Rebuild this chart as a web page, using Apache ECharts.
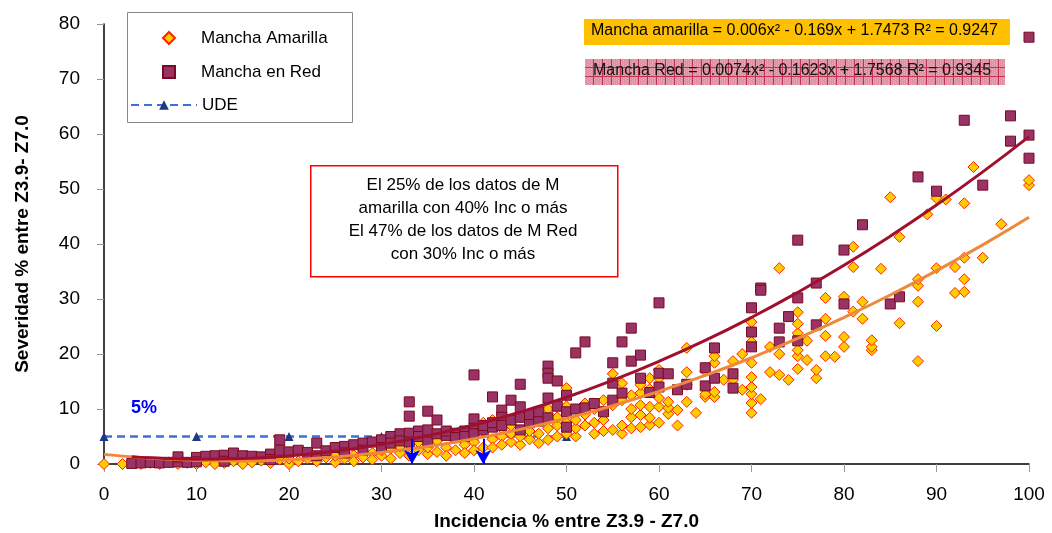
<!DOCTYPE html>
<html>
<head>
<meta charset="utf-8">
<script src="https://cdn.jsdelivr.net/npm/echarts@6/dist/echarts.min.js"></script>
<style>
html,body{margin:0;padding:0;background:#fff;}
#chart{width:1052px;height:533px;}
</style>
</head>
<body>
<div id="chart"></div>
<script>
// ---- Data ----
const xTicks = [0,10,20,30,40,50,60,70,80,90,100];
const yTicks = [0,10,20,30,40,50,60,70,80];

const manchaAmarilla = [
[0,0],[2,0],[4,0],[5,0.2],[6,0],[7,0.3],[8,0],[9,0.2],[10,0],[11,0.3],[12,0],[13,0.2],[14,0.5],[15,0],[16,0.3],[17,0.6],[18,0.2],[19,0.8],[20,0],[20,1.0],
[21,0.5],[22,1.0],[23,0.5],[24,1.2],[25,0.3],[25,1.5],[26,1.0],[27,1.6],[27,0.5],[28,1.2],[29,2.0],[29,0.8],[30,1.5],[30,2.5],[31,1.0],[31,2.8],[32,2.0],[32,3.2],[33,1.5],[33,3.5],
[34,2.5],[34,4.0],[35,1.8],[35,3.0],[36,2.2],[36,4.2],[37,3.0],[37,1.5],[38,2.5],[38,4.8],[39,3.5],[39,2.0],[40,4.0],[40,5.5],[40,2.5],[41,3.0],[41,6.0],[41,7.5],[42,4.5],[42,3.0],
[42,8.0],[43,5.0],[43,3.5],[43,6.5],[44,4.0],[44,5.5],[44,7.0],[45,3.5],[45,5.0],[45,8.5],[46,4.5],[46,6.0],[46,7.5],[47,3.8],[47,5.5],[47,8.8],[48,4.4],[48,6.5],[48,10.0],[49,5.0],
[49,7.0],[49,8.5],[50,5.5],[50,7.5],[50,13.8],[50,10.5],[51,5.0],[51,6.5],[51,8.0],[52,7.0],[52,9.0],[52,11.0],[53,5.5],[53,7.5],[53,10.0],[54,6.0],[54,8.0],[54,11.6],[55,6.2],[55,10.7],
[55,16.4],[56,5.5],[56,7.0],[56,11.6],[56,14.7],[57,6.5],[57,8.5],[57,12.5],[57,10.0],[58,6.7],[58,8.9],[58,10.7],[58,12.9],[58,14.4],[59,7.1],[59,8.4],[59,10.4],[59,13.6],[59,15.6],[60,7.5],
[60,10.4],[60,12.0],[60,15.6],[60,17.1],[61,9.1],[61,10.2],[61,11.3],[62,7.0],[62,9.8],[63,11.3],[63,14.4],[63,16.7],[63,21.1],[64,9.3],[65,12.2],[65,12.7],[65,16.9],[66,12.2],[66,13.1],[66,18.4],
[66,19.6],[67,15.3],[68,15.3],[68,18.7],[69,13.5],[69,20.0],[70,9.3],[70,11.1],[70,12.7],[70,14.0],[70,15.8],[70,18.4],[70,22.2],[70,25.8],[71,11.8],[72,16.7],[72,21.3],[73,16.2],[73,20.0],[73,35.6],
[74,15.3],[75,17.3],[75,19.6],[75,20.7],[75,23.8],[75,25.5],[75,27.6],[76,18.9],[76,22.4],[77,15.6],[77,17.1],[78,19.6],[78,23.3],[78,26.4],[78,30.2],[79,19.5],[80,21.3],[80,23.1],[80,30.4],[81,27.7],
[81,35.8],[81,39.5],[82,26.4],[82,29.5],[83,20.7],[83,21.3],[83,22.5],[84,35.5],[85,48.5],[86,25.6],[86,41.3],[88,18.7],[88,29.5],[88,32.4],[88,33.6],[89,45.4],[90,25.1],[90,35.6],[90,48.3],[91,48.1],
[92,31.1],[92,35.8],[93,31.3],[93,33.6],[93,37.5],[93,47.4],[94,54.0],[95,37.5],[97,43.6],[100,50.7],[100,51.6]
];

const manchaRed = [
[3,0.1],[4,0.2],[5,0.3],[6,0.2],[7,0.3],[8,0.4],[8,1.3],[9,0.3],[10,1.2],[10,0.4],[11,1.4],[12,1.5],[13,1.6],[13,0.5],[14,2.0],[15,1.5],[16,1.4],[17,1.3],[18,1.8],[18,0.8],
[19,2.5],[19,4.4],[20,2.2],[21,2.5],[22,2.1],[23,3.8],[23,1.5],[24,2.4],[25,3.0],[26,3.2],[26,2.0],[27,3.5],[28,3.8],[28,2.5],[29,4.0],[30,4.4],[30,3.0],[31,5.0],[31,3.8],[32,5.5],
[32,4.2],[33,5.6],[33,11.3],[33,8.7],[33,4.0],[34,6.0],[34,5.0],[35,9.6],[35,4.0],[35,6.2],[36,8.0],[36,5.5],[37,5.2],[37,6.0],[38,5.6],[38,4.8],[39,6.0],[39,5.0],[40,16.2],[40,8.2],
[40,6.5],[40,5.5],[41,6.2],[41,7.0],[42,12.2],[42,6.7],[42,7.5],[43,9.8],[43,8.5],[43,7.0],[44,11.6],[44,8.0],[45,14.5],[45,10.4],[45,8.5],[45,6.2],[46,7.5],[46,9.0],[47,7.8],[47,9.5],
[48,17.8],[48,16.5],[48,15.6],[48,12.0],[48,8.4],[49,15.1],[49,10.5],[50,12.5],[50,9.5],[50,6.7],[51,20.2],[51,10.0],[52,22.2],[52,10.2],[53,11.0],[54,9.5],[55,18.4],[55,14.7],[55,11.6],[56,22.2],
[56,12.9],[57,24.7],[57,18.7],[58,19.8],[58,15.6],[59,13.0],[60,29.3],[60,14.0],[60,16.5],[61,16.4],[62,13.5],[63,14.5],[65,17.5],[65,14.2],[66,21.1],[66,15.6],[68,16.4],[68,13.8],[70,28.4],[70,24.0],
[70,21.3],[71,32.0],[71,31.6],[73,24.7],[73,22.2],[74,26.8],[75,40.7],[75,30.2],[75,22.4],[77,32.9],[77,25.3],[80,38.9],[80,29.1],[82,43.5],[85,29.1],[86,30.4],[88,52.2],[90,49.6],[93,62.5],[95,50.7],
[98,63.3],[98,58.7],[100,59.8],[100,55.6],[100,77.6]
];

const udeX = [0,10,20,30,40,50];
const udeY = [5,5,5,5,5,5];

// trendline values (consistent with the displayed equations)
const trendAmarillaX = [0,5,10,15,20,25,30,35,40,45,50,55,60,65,70,75,80,85,90,95,100];
const trendAmarillaY = [1.75,1.05,0.66,0.56,0.77,1.27,2.08,3.18,4.59,6.29,8.30,10.60,13.21,16.11,19.32,22.82,26.63,30.73,35.14,39.84,44.85];
const trendRedX = [3,5,10,15,20,25,30,35,40,45,50,55,60,65,70,75,80,85,90,95,100];
const trendRedY = [1.34,1.13,0.87,0.99,1.47,2.32,3.55,5.14,7.10,9.44,12.14,15.22,18.66,22.47,26.66,31.21,36.13,41.43,47.09,53.12,59.53];

const arrowX = [33.3, 41.0];
const arrowTop = 4.6;

// ---- build ----
const zip = (xs, ys) => xs.map((x, i) => [x, ys[i]]);
const FONT = '"Liberation Sans", Arial, sans-serif';

// pattern for red equation box
const pat = document.createElement('canvas');
pat.width = 9; pat.height = 9;
(function(){
  const c = pat.getContext('2d');
  c.fillStyle = '#dc90a1'; c.fillRect(0,0,9,9);
  c.fillStyle = '#e9b0bd';
  for (let i=0;i<9;i+=2) for (let j=(i/2)%2;j<9;j+=2) c.fillRect(i,j,1,1);
  c.fillStyle = '#c42f52';
  c.fillRect(8,0,1,9); c.fillRect(0,8,9,1);
})();

const FS = 19;
const legendText = {fontSize: 17, color: '#000', fontFamily: FONT, lineHeight: 20};
const chart = echarts.init(document.getElementById('chart'), null, {renderer: 'canvas'});
const option = {
  animation: false,
  backgroundColor: '#ffffff',
  textStyle: {fontFamily: FONT},
  grid: {left: 104, right: 23, top: 24, bottom: 69, outerBoundsMode: 'none', containLabel: false},
  xAxis: {
    type: 'value', min: 0, max: 100, interval: 10,
    name: 'Incidencia % entre Z3.9 - Z7.0', nameLocation: 'middle', nameGap: 48,
    nameTextStyle: {fontSize: FS, fontWeight: 'bold', color: '#000', fontFamily: FONT},
    axisLine: {show: true, onZero: false, lineStyle: {color: '#000', width: 1.5}},
    axisTick: {show: true, length: 8, lineStyle: {color: '#999'}},
    axisLabel: {fontSize: FS, color: '#000', margin: 21, fontFamily: FONT,
      formatter: v => xTicks.includes(v) ? String(v) : ''},
    splitLine: {show: false}
  },
  yAxis: {
    type: 'value', min: 0, max: 80, interval: 10,
    name: 'Severidad % entre Z3.9- Z7.0', nameLocation: 'middle', nameGap: 72, nameRotate: 90,
    nameTextStyle: {fontSize: FS, fontWeight: 'bold', color: '#000', fontFamily: FONT},
    axisLine: {show: true, onZero: false, lineStyle: {color: '#000', width: 1.5}},
    axisTick: {show: true, length: 7, lineStyle: {color: '#999'}},
    axisLabel: {fontSize: FS, color: '#000', margin: 24, fontFamily: FONT,
      formatter: v => yTicks.includes(v) ? String(v) : ''},
    splitLine: {show: false}
  },
  legend: [
    {
      orient: 'vertical', left: 162, top: 28, padding: 0,
      data: ['Mancha Amarilla', 'Mancha en Red'],
      itemGap: 14, itemWidth: 12, itemHeight: 12,
      textStyle: Object.assign({padding: [0, 0, 0, 21]}, legendText),
      selectedMode: false, z: 20
    },
    {
      orient: 'vertical', left: 130, top: 95, padding: 0,
      data: ['UDE'],
      itemWidth: 66, itemHeight: 12,
      textStyle: legendText,
      selectedMode: false, z: 20
    }
  ],
  series: [
    {
      name: 'UDE', type: 'line', z: 1,
      data: zip(udeX, udeY),
      symbol: 'triangle', symbolSize: 9, showSymbol: true,
      itemStyle: {color: '#1b3a82'},
      lineStyle: {color: '#3d6fdc', width: 2.5, type: [8, 5]},
      markLine: {
        silent: true, symbol: ['none', 'arrow'], symbolSize: [12, 14],
        label: {show: false},
        lineStyle: {color: '#0000ff', width: 2, type: 'solid'},
        data: arrowX.map(x => [{coord: [x, arrowTop]}, {coord: [x, 0]}])
      }
    },
    {
      name: 'Mancha Amarilla', type: 'scatter', z: 2,
      symbol: 'diamond', symbolSize: 11,
      itemStyle: {color: '#ffcc00', borderColor: '#ff2200', borderWidth: 1, opacity: 1},
      data: manchaAmarilla
    },
    {
      name: 'Mancha en Red', type: 'scatter', z: 2,
      symbol: 'rect', symbolSize: 10,
      itemStyle: {color: '#993366', borderColor: '#7a0a1e', borderWidth: 1, opacity: 1},
      data: manchaRed
    },
    {
      name: 'trend amarilla', type: 'line', z: 3, smooth: true,
      symbol: 'none', data: zip(trendAmarillaX, trendAmarillaY),
      lineStyle: {color: '#f0883a', width: 3}
    },
    {
      name: 'trend red', type: 'line', z: 3, smooth: true,
      symbol: 'none', data: zip(trendRedX, trendRedY),
      lineStyle: {color: '#a0102e', width: 3}
    }
  ],
  graphic: [
    {type: 'rect', left: 127, top: 12, z: 5, shape: {width: 225, height: 110}, style: {fill: '#fff', stroke: '#888', lineWidth: 1}},
    {type: 'rect', left: 584, top: 19, shape: {width: 426, height: 26}, style: {fill: '#ffc000'}, z: 10},
    {type: 'text', left: 591, top: 23, z: 11,
      style: {text: 'Mancha amarilla = 0.006x² - 0.169x + 1.7473 R² = 0.9247', fill: '#000', font: '16px ' + FONT}},
    {type: 'rect', left: 585, top: 59, shape: {width: 420, height: 26}, style: {fill: {image: pat, repeat: 'repeat'}}, z: 10},
    {type: 'text', left: 593, top: 63, z: 11,
      style: {text: 'Mancha Red = 0.0074x² - 0.1623x + 1.7568 R² = 0.9345', fill: '#111', font: '16px ' + FONT}},
    {type: 'rect', left: 310, top: 165, shape: {width: 307, height: 111}, style: {fill: '#fff', stroke: '#ff0000', lineWidth: 1.5}, z: 10},
    {type: 'text', x: 463, y: 174, z: 11,
      style: {text: 'El 25% de los datos de M\namarilla con 40% Inc o más\nEl 47% de los datos de M Red\ncon 30% Inc o más',
        fill: '#000', font: '17px ' + FONT, lineHeight: 23, align: 'center', verticalAlign: 'top'}},
    {type: 'text', left: 131, top: 399, z: 11,
      style: {text: '5%', fill: '#0000ff', font: 'bold 18px ' + FONT}}
  ]
};
chart.setOption(option);
</script>
</body>
</html>
